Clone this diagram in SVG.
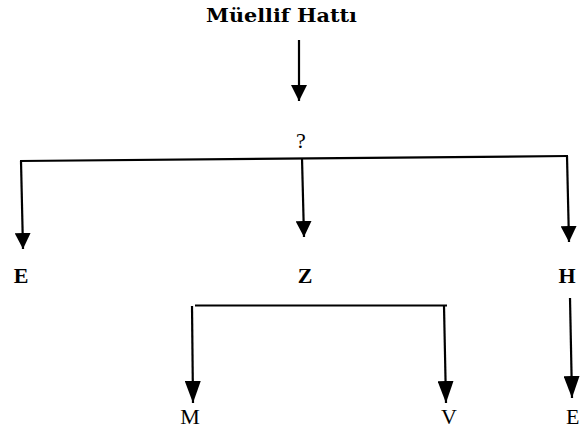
<svg xmlns="http://www.w3.org/2000/svg" width="580" height="432" viewBox="0 0 580 432">
<style>
text{font-family:"Liberation Serif","DejaVu Serif",serif;fill:#000}
.t{font-family:"DejaVu Serif","Liberation Serif",serif;font-weight:bold;font-size:18px}
.b{font-weight:bold;font-size:22px}
.r{font-size:22px}
.ln{stroke:#000;stroke-width:2.2;fill:none}
</style>
<defs>
<marker id="ah" viewBox="0 0 16 16" refX="16" refY="8" markerWidth="16" markerHeight="16" markerUnits="userSpaceOnUse" orient="auto">
<path d="M0,0 L16,8 L0,16 Z" fill="#000"/>
</marker>
<marker id="ahl" viewBox="0 0 22 16" refX="22" refY="8" markerWidth="22" markerHeight="16" markerUnits="userSpaceOnUse" orient="auto">
<path d="M0,0 L22,8 L0,16 Z" fill="#000"/>
</marker>
</defs>
<g id="title"><text class="t" x="206" y="22" textLength="151" lengthAdjust="spacingAndGlyphs">Müellif Hattı</text></g>
<g id="q"><text class="r" x="301" y="148" text-anchor="middle">?</text></g>
<g id="nE"><text class="b" x="21" y="283" text-anchor="middle">E</text></g>
<g id="nZ"><text class="b" x="305" y="283" text-anchor="middle">Z</text></g>
<g id="nH"><text class="b" x="567" y="283" text-anchor="middle">H</text></g>
<g id="nM"><text class="r" x="190" y="424" text-anchor="middle">M</text></g>
<g id="nV"><text class="r" x="449" y="424" text-anchor="middle">V</text></g>
<g id="nE2"><text class="r" x="566" y="424">E</text></g>
<g id="connectors">
<line class="ln" x1="299" y1="40" x2="299" y2="101" marker-end="url(#ah)"/>
<line class="ln" x1="20" y1="161" x2="568" y2="156"/>
<line class="ln" x1="21" y1="161" x2="23" y2="249" marker-end="url(#ah)"/>
<line class="ln" x1="302" y1="158" x2="304" y2="237" marker-end="url(#ah)"/>
<line class="ln" x1="567" y1="156" x2="569" y2="242" marker-end="url(#ah)"/>
<line class="ln" x1="195" y1="305.5" x2="447" y2="305.5"/>
<line class="ln" x1="192" y1="306" x2="193" y2="403" marker-end="url(#ahl)"/>
<line class="ln" x1="444" y1="306" x2="446" y2="403" marker-end="url(#ahl)"/>
<line class="ln" x1="570" y1="298" x2="572" y2="398" marker-end="url(#ahl)"/>
</g>
</svg>
